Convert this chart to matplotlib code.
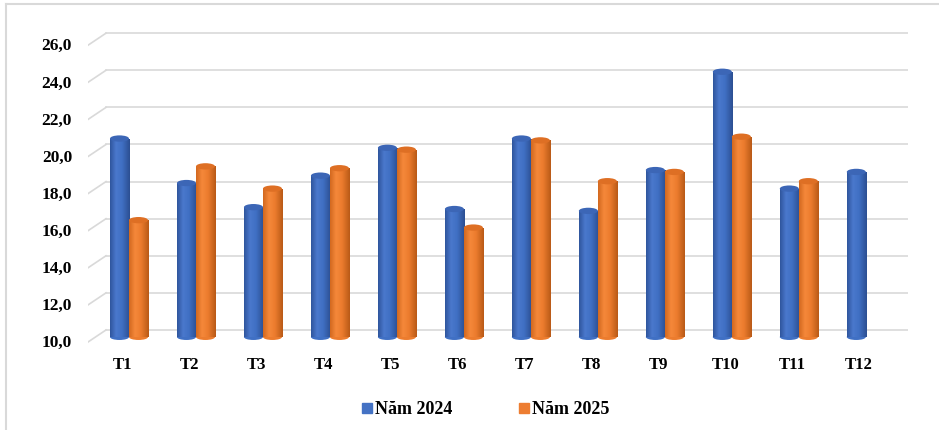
import numpy as np
import matplotlib.pyplot as plt
from matplotlib.patches import Ellipse
from matplotlib.lines import Line2D

months = ["T1", "T2", "T3", "T4", "T5", "T6", "T7", "T8", "T9", "T10", "T11", "T12"]
nam_2024 = [20.7, 18.3, 17.0, 18.7, 20.2, 16.9, 20.7, 16.8, 19.0, 24.3, 18.0, 18.9]
nam_2025 = [16.3, 19.2, 18.0, 19.1, 20.1, 15.9, 20.6, 18.4, 18.9, 20.8, 18.4]
yticks = [10, 12, 14, 16, 18, 20, 22, 24, 26]

plt.rcParams["font.family"] = ["Liberation Serif", "DejaVu Serif"]

fig = plt.figure(figsize=(9.39, 4.3), dpi=100)
ax = fig.add_axes([88 / 939, 80 / 430, 820 / 939, 330 / 430])
ax.axis("off")

# back wall grid + floor diagonals
for v in yticks:
    ax.plot([-0.343, 11.63], [v + 0.38, v + 0.38], color="#d9d9d9", lw=1.2, zorder=1)
    ax.plot([-0.612, -0.343], [v - 0.27, v + 0.38], color="#d9d9d9", lw=1.2, zorder=1)
    ax.text(-0.85, v - 0.33, f"{v:.1f}".replace(".", ","), ha="right", va="center",
            fontsize=12.5, fontweight="bold")

w = 0.284
styles = {
    "blue": dict(colors=["#2f559c", "#4a78cc", "#4070c4", "#2c4f92"], cap="#3c66b6"),
    "orange": dict(colors=["#d2681f", "#f5883a", "#ec7c2e", "#b95a17"], cap="#de6f24"),
}


def cylinders(xs, vals, key):
    st = styles[key]
    bars = ax.bar(xs, np.array(vals) - 10, width=w, bottom=10, color=st["colors"][2],
                  zorder=3, linewidth=0)
    grad = np.linspace(0, 1, 64)
    cols = np.array([[int(c[i:i + 2], 16) / 255 for i in (1, 3, 5)] for c in st["colors"]])
    stops = [0, 0.3, 0.6, 1]
    img = np.stack([np.interp(grad, stops, cols[:, k]) for k in range(3)], axis=-1)[None, :, :]
    for b, x, v in zip(bars, xs, vals):
        im = ax.imshow(img, extent=[x - w / 2, x + w / 2, 10, v], aspect="auto",
                       zorder=3.5, interpolation="bilinear")
        im.set_clip_path(b)
        ax.add_patch(Ellipse((x, 10), w, 0.32, color=st["colors"][2], zorder=3.4, lw=0))
        ax.add_patch(Ellipse((x, v), w, 0.34, color=st["cap"], zorder=4, lw=0))


x = np.arange(len(months))
cylinders(x - w / 2, nam_2024, "blue")
cylinders(x[:len(nam_2025)] + w / 2, nam_2025, "orange")
ax.set_xlim(-0.612, 11.63)
ax.set_ylim(9.3, 27.09)

for xi, m in zip(x, months):
    ax.text(xi - 0.1, 8.5, m, ha="center", va="center", fontsize=12, fontweight="bold")

handles = [Line2D([], [], marker="s", ls="", color="#4472c4", markersize=6.5),
           Line2D([], [], marker="s", ls="", color="#ed7d31", markersize=6.5)]
fig.legend(handles, ["Năm 2024", "Năm 2025"], loc="center", bbox_to_anchor=(0.516, 0.047),
           ncol=2, frameon=False, columnspacing=3.6, handletextpad=0.05, handlelength=0.8,
           prop={"weight": "bold", "size": 13})

fig.add_artist(Line2D([6 / 939, 1], [1 - 4 / 430] * 2, color="#d9d9d9", lw=1.5))
fig.add_artist(Line2D([6 / 939] * 2, [0, 1 - 4 / 430], color="#d9d9d9", lw=1.5))

fig.savefig("out.png", dpi=100)
